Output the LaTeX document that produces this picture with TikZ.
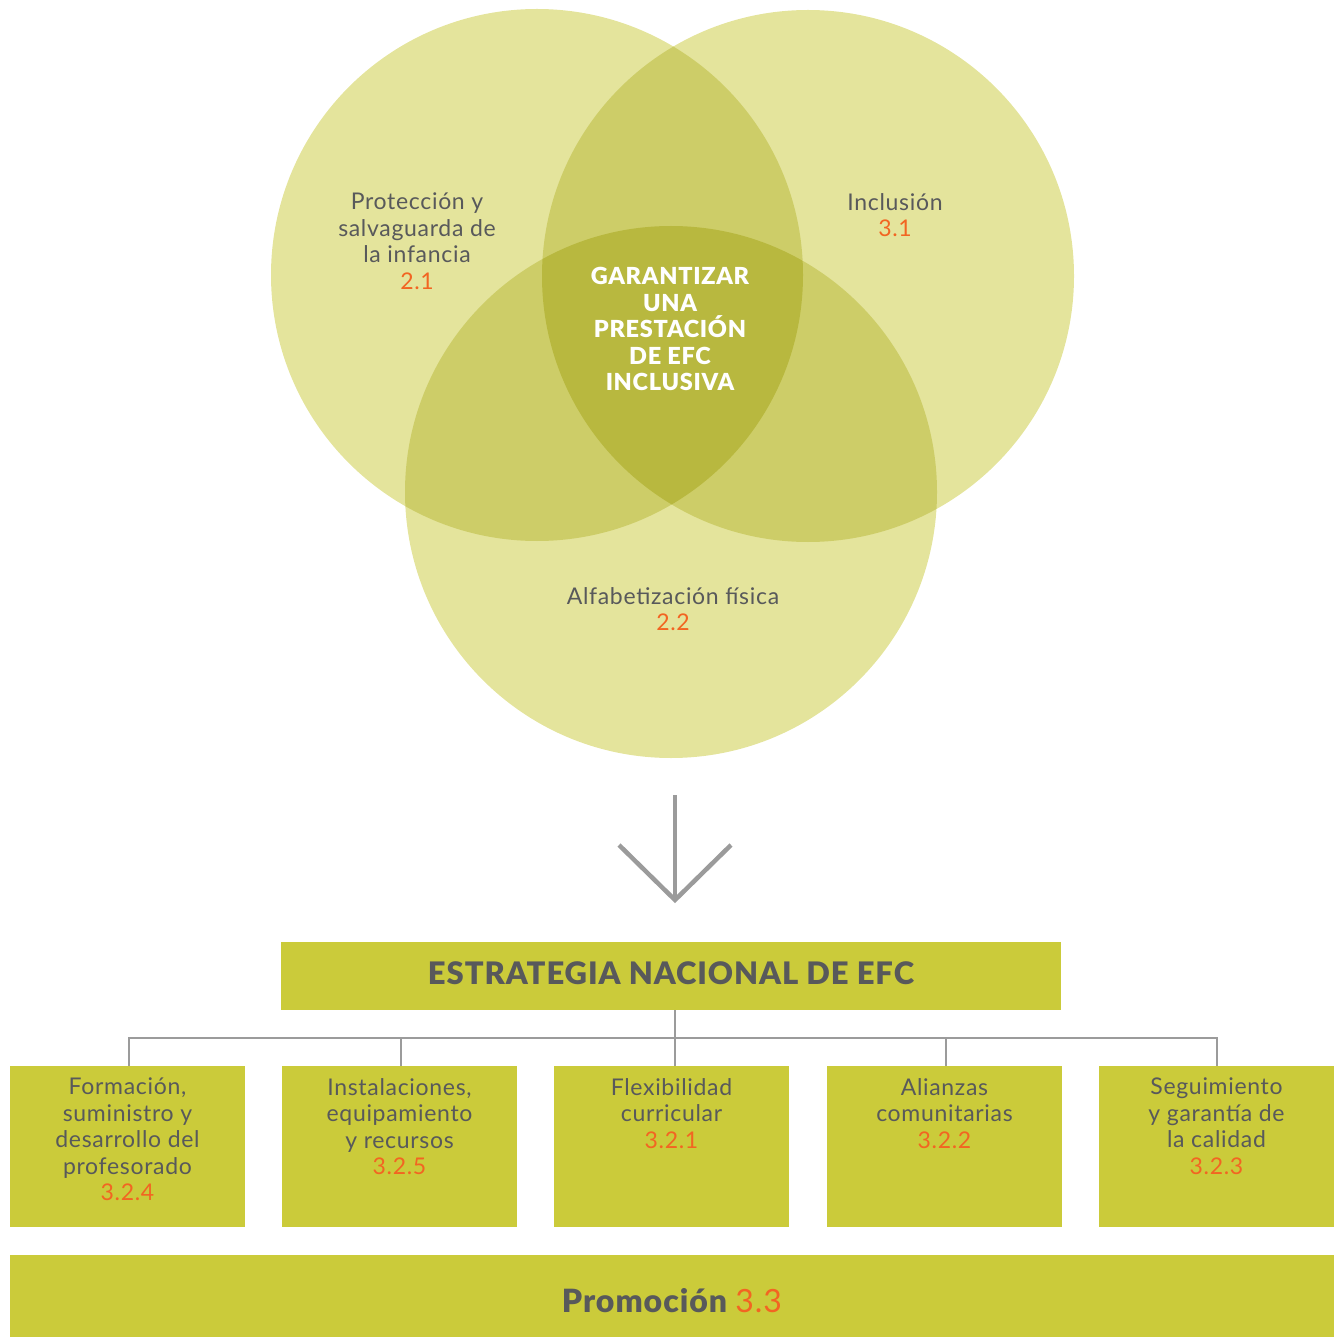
\documentclass[tikz,border=0pt]{standalone}
\usepackage{fontspec}
\setmainfont{Lato}[BoldFont={* Black}, LetterSpace=3]
\definecolor{c1}{HTML}{E4E49C}
\definecolor{c2}{HTML}{CDCD68}
\definecolor{c3}{HTML}{B8B83F}
\definecolor{boxc}{HTML}{CBCB3A}
\definecolor{txt}{HTML}{58595B}
\definecolor{org}{HTML}{F26522}
\definecolor{lgray}{HTML}{9B9B9B}
\tikzset{
  lbl/.style={font=\fontsize{23}{26.5}\selectfont, text=txt, align=center, inner sep=0pt, anchor=north},
  boxtxt/.style={font=\fontsize{23}{26.5}\selectfont, text=txt, align=center, inner sep=0pt, anchor=north},
  sbox/.style={fill=boxc, draw=none, minimum width=235pt, minimum height=161pt, inner sep=0pt},
  conn/.style={draw=lgray, line width=2pt},
  arr/.style={draw=lgray, line width=4.5pt},
  num/.style={text=org}
}
\begin{document}
\begin{tikzpicture}[x=1pt,y=-1pt]
\useasboundingbox (0,0) rectangle (1339,1337);
\coordinate (cL) at (537,275);
\coordinate (cR) at (808,276);
\coordinate (cB) at (671,492);
\def\R{266}
% single
\fill[c1] (cL) circle (\R);
\fill[c1] (cR) circle (\R);
\fill[c1] (cB) circle (\R);
% pairwise
\begin{scope}\clip (cL) circle (\R); \fill[c2] (cR) circle (\R); \fill[c2] (cB) circle (\R); \end{scope}
\begin{scope}\clip (cR) circle (\R); \fill[c2] (cB) circle (\R); \end{scope}
% triple
\begin{scope}\clip (cL) circle (\R); \clip (cR) circle (\R); \fill[c3] (cB) circle (\R); \end{scope}

\node[lbl] (tL) at (417,193) {Protección y\\salvaguarda de\\la infancia\\{\color{org}2.1}};
\node[lbl] (tR) at (895,193) {Inclusión\\{\color{org}3.1}};
\node[lbl] (tB) at (673,587) {Alfabetización física\\{\color{org}2.2}};
\node[lbl, text=white, font=\fontsize{23.5}{26.5}\bfseries] (tC) at (670,267) {GARANTIZAR\\UNA\\PRESTACIÓN\\DE EFC\\INCLUSIVA};

% arrow
\coordinate (aTop) at (675,795);
\coordinate (aTip) at (675,900);
\coordinate (aL) at (619,845);
\coordinate (aR) at (731,845);
\draw[arr] (aTop) -- (aTip);
\draw[arr, line join=miter] (aL) -- (aTip) -- (aR);

% strategy box
\node[fill=boxc, minimum width=780pt, minimum height=68pt, inner sep=0pt] (strat) at (671,976) {};
\node[font=\fontsize{31}{34}\bfseries, text=txt, inner sep=0pt] (stratT) at (671,973) {ESTRATEGIA NACIONAL DE EFC};

% sub boxes
\node[sbox] (b1) at (127.5,1146.5) {};
\node[sbox] (b2) at (399.5,1146.5) {};
\node[sbox] (b3) at (671.5,1146.5) {};
\node[sbox] (b4) at (944.5,1146.5) {};
\node[sbox] (b5) at (1216.5,1146.5) {};

\coordinate (bus) at (675,1038);
\draw[conn] (strat.south -| bus) -- (bus);
\draw[conn] (bus) -| ([xshift=1.5pt]b1.north);
\draw[conn] (bus) -| ([xshift=1.5pt]b2.north);
\draw[conn] (bus) -- ([xshift=3.5pt]b3.north);
\draw[conn] (bus) -| ([xshift=1.5pt]b4.north);
\draw[conn] (bus) -| ([xshift=0.5pt]b5.north);

\node[boxtxt] (t1) at (127.5,1078) {Formación,\\suministro y\\desarrollo del\\profesorado\\{\color{org}3.2.4}};
\node[boxtxt] (t2) at (399.5,1078) {Instalaciones,\\equipamiento\\y recursos\\{\color{org}3.2.5}};
\node[boxtxt] (t3) at (671.5,1078) {Flexibilidad\\curricular\\{\color{org}3.2.1}};
\node[boxtxt] (t4) at (944.5,1078) {Alianzas\\comunitarias\\{\color{org}3.2.2}};
\node[boxtxt] (t5) at (1216.5,1078) {Seguimiento\\y garantía de\\la calidad\\{\color{org}3.2.3}};

% promotion
\node[fill=boxc, minimum width=1324pt, minimum height=82pt, inner sep=0pt] (prom) at (672,1296) {};
\node[font=\fontsize{32}{34}\selectfont, text=txt, inner sep=0pt] (promT) at (672,1301) {\bfseries Promoción \mdseries\color{org}3.3};
\end{tikzpicture}
\end{document}
